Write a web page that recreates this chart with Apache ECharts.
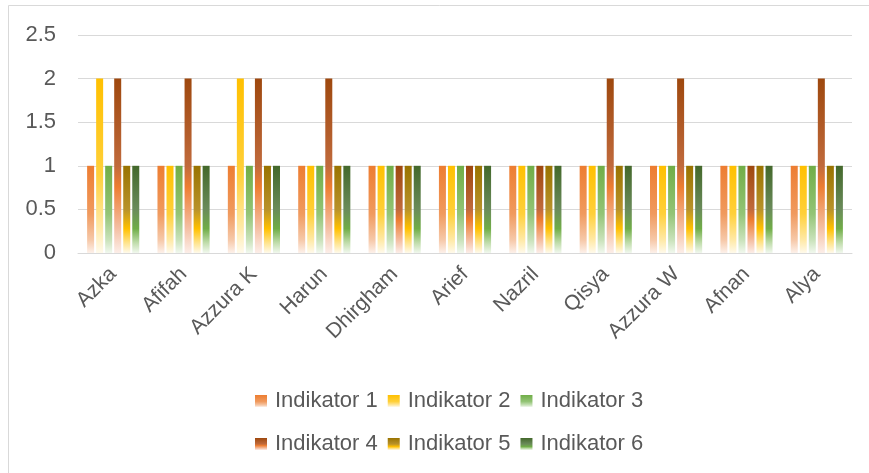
<!DOCTYPE html>
<html>
<head>
<meta charset="utf-8">
<script src="https://cdn.jsdelivr.net/npm/echarts@6/dist/echarts.min.js"></script>
<style>
  html, body { margin: 0; padding: 0; background: #fff; }
  #main { width: 869px; height: 473px; }
</style>
</head>
<body>
<div id="main"></div>
<script>
const names = ['Azka', 'Afifah', 'Azzura K', 'Harun', 'Dhirgham', 'Arief', 'Nazril', 'Qisya', 'Azzura W', 'Afnan', 'Alya']
const seriesNames = ['Indikator 1', 'Indikator 2', 'Indikator 3', 'Indikator 4', 'Indikator 5', 'Indikator 6']
const indikator1 = [1, 1, 1, 1, 1, 1, 1, 1, 1, 1, 1]
const indikator2 = [2, 1, 2, 1, 1, 1, 1, 1, 1, 1, 1]
const indikator3 = [1, 1, 1, 1, 1, 1, 1, 1, 1, 1, 1]
const indikator4 = [2, 2, 2, 2, 1, 1, 1, 2, 2, 1, 2]
const indikator5 = [1, 1, 1, 1, 1, 1, 1, 1, 1, 1, 1]
const indikator6 = [1, 1, 1, 1, 1, 1, 1, 1, 1, 1, 1]
const yTicks = [0, 0.5, 1, 1.5, 2, 2.5]

const values = [indikator1, indikator2, indikator3, indikator4, indikator5, indikator6]

// Excel-like gradient fills (top -> bottom fades to white)
function grad (stops) {
  return new echarts.graphic.LinearGradient(0, 0, 0, 1, stops.map(function (s) {
    return { offset: s[0], color: s[1] }
  }))
}
const fills = [
  grad([[0, '#ED7D31'], [0.55, '#F09A5E'], [0.85, '#F6C8A8'], [1, '#FDF1EA']]),
  grad([[0, '#FFC000'], [0.55, '#FFD03A'], [0.85, '#FFE9A6'], [1, '#FFFAEB']]),
  grad([[0, '#70AD47'], [0.55, '#93C476'], [0.85, '#C9E2BA'], [1, '#F1F8EE']]),
  grad([[0, '#9E480E'], [0.5, '#C06A3C'], [0.62, '#ED7D31'], [0.85, '#F4BDA0'], [1, '#FCEEE8']]),
  grad([[0, '#997300'], [0.5, '#B8922A'], [0.72, '#FFC000'], [0.88, '#FFE38A'], [1, '#FFFAEB']]),
  grad([[0, '#43682B'], [0.5, '#6A8B5A'], [0.72, '#70AD47'], [0.88, '#BFDCAA'], [1, '#F1F8EE']])
]

const myChart = echarts.init(document.getElementById('main'))
window.addEventListener('resize', function () {
  myChart.resize()
})

const legendText = {
  color: '#595959',
  fontSize: 22,
  fontFamily: 'Liberation Sans',
  padding: [0, 0, 0, 3]
}

const option = {
  backgroundColor: '#fff',
  animation: false,
  graphic: [
    {
      type: 'rect',
      shape: { x: 8.5, y: 5.5, width: 900, height: 500 },
      style: { fill: 'none', stroke: '#d9d9d9', lineWidth: 1 },
      silent: true
    }
  ],
  grid: {
    left: 78,
    right: 17,
    top: 35,
    bottom: 220
  },
  legend: [
    {
      data: seriesNames.slice(0, 3),
      left: 250,
      top: 385,
      itemWidth: 12,
      itemHeight: 12,
      itemGap: 10,
      icon: 'rect',
      textStyle: legendText
    },
    {
      data: seriesNames.slice(3),
      left: 250,
      top: 428,
      itemWidth: 12,
      itemHeight: 12,
      itemGap: 10,
      icon: 'rect',
      textStyle: legendText
    }
  ],
  xAxis: {
    type: 'category',
    data: names,
    axisLine: { lineStyle: { color: '#d9d9d9', width: 1 } },
    axisTick: { show: false },
    axisLabel: {
      rotate: 45,
      interval: 0,
      color: '#595959',
      fontSize: 21,
      fontFamily: 'Liberation Sans',
      margin: 18
    }
  },
  yAxis: {
    type: 'value',
    min: yTicks[0],
    max: yTicks[yTicks.length - 1],
    interval: 0.5,
    axisLine: { show: false },
    axisTick: { show: false },
    splitLine: { lineStyle: { color: '#d9d9d9', width: 1 } },
    axisLabel: {
      color: '#595959',
      fontSize: 22,
      fontFamily: 'Liberation Sans',
      margin: 22
    }
  },
  series: seriesNames.map(function (name, i) {
    return {
      name: name,
      type: 'bar',
      data: values[i],
      barWidth: 7,
      barGap: '29%',
      itemStyle: { color: fills[i] }
    }
  })
}

myChart.setOption(option)
</script>
</body>
</html>
